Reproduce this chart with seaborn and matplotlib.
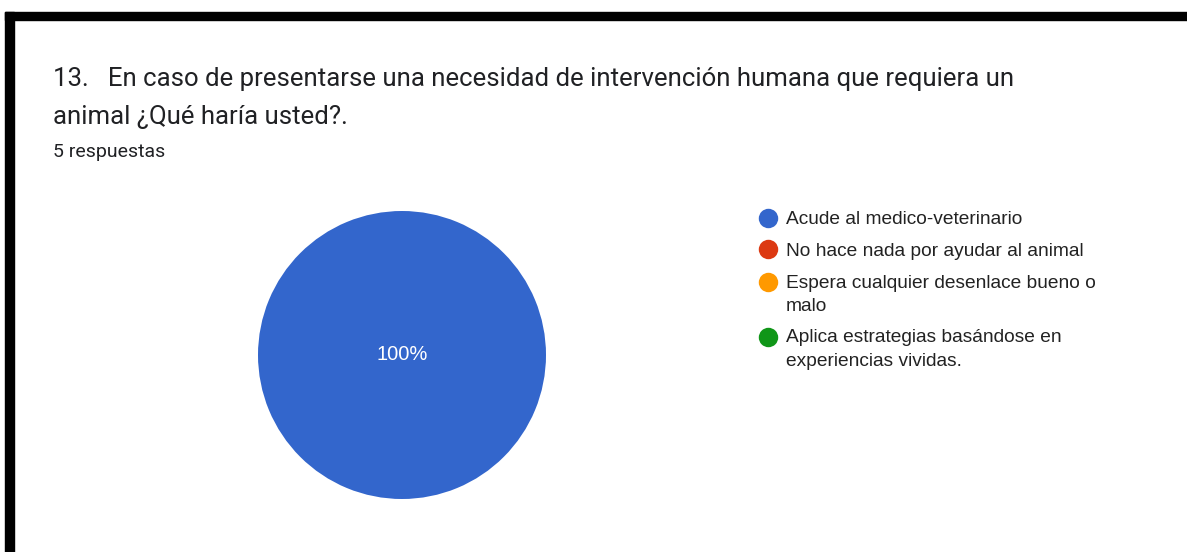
import matplotlib
matplotlib.use("Agg")
import matplotlib.pyplot as plt
from matplotlib.lines import Line2D
from matplotlib.legend_handler import HandlerLine2D
from matplotlib.patches import Rectangle
import seaborn as sns

# Datos de la pregunta 13
titulo = ("13.   En caso de presentarse una necesidad de intervención humana que requiera un\n"
          "animal ¿Qué haría usted?.")
subtitulo = "5 respuestas"
opciones = ["Acude al medico-veterinario",
            "No hace nada por ayudar al animal",
            "Espera cualquier desenlace bueno o\nmalo",
            "Aplica estrategias basándose en\nexperiencias vividas."]
respuestas = [5, 0, 0, 0]
colores = ["#3366cc", "#dc3912", "#ff9900", "#109618"]


class HandlerPrimeraLinea(HandlerLine2D):
    # pone el circulo a la altura de la primera linea del texto
    def __init__(self, dy=0, **kw):
        super().__init__(**kw)
        self.dy = dy

    def create_artists(self, legend, orig_handle, xdescent, ydescent,
                       width, height, fontsize, trans):
        return super().create_artists(legend, orig_handle, xdescent,
                                      ydescent - self.dy, width, height,
                                      fontsize, trans)


sns.set_theme(style="white")
plt.rcParams['font.family'] = ['Roboto', 'DejaVu Sans']

W, H = 1187, 552
fig = plt.figure(figsize=(W / 100, H / 100), dpi=100)
fig.patch.set_facecolor("white")

# Marco negro de la captura
fig.patches.append(Rectangle((5 / W, 1 - 20 / H), 1 - 5 / W, 8 / H,
                             transform=fig.transFigure, color="black", zorder=0))
fig.patches.append(Rectangle((5 / W, 0), 9 / W, 1 - 12 / H,
                             transform=fig.transFigure, color="black", zorder=0))

# Titulo y subtitulo
fig.text(53 / W, 1 - 67 / H, titulo, fontsize=18.5, color="#202124",
         va="top", ha="left", linespacing=1.75)
fig.text(53 / W, 1 - 143 / H, subtitulo, fontsize=14, color="#202124",
         va="top", ha="left")

# Grafico de torta
ax = fig.add_axes([258 / W, 53 / H, 288 / W, 288 / H])
pal = sns.color_palette(colores)
ax.pie(respuestas, colors=pal, startangle=90, counterclock=False,
       autopct=lambda p: f"{p:.0f}%" if p > 0 else "", pctdistance=0,
       wedgeprops=dict(linewidth=0),
       textprops=dict(color="white", fontsize=14.5, family=['Liberation Sans', 'DejaVu Sans']))
ax.set_xlim(-1, 1)
ax.set_ylim(-1, 1)
ax.set_aspect("equal")
ax.axis("off")

# Leyenda
handles = [Line2D([], [], linestyle="none", marker="o", markersize=14,
                  markerfacecolor=c, markeredgewidth=0) for c in pal]
mapa = {h: HandlerPrimeraLinea(dy=18.6) for h, o in zip(handles, opciones) if "\n" in o}
leg = fig.legend(handles, opciones, loc="upper left", handler_map=mapa,
                 bbox_to_anchor=(758 / W, 1 - 211 / H), frameon=False,
                 borderaxespad=0, borderpad=0, handletextpad=0.4, handlelength=1.05,
                 labelspacing=0.75,
                 prop=dict(family=['Liberation Sans', 'DejaVu Sans'], size=13.8),
                 labelcolor="#222222")
for t in leg.get_texts():
    t.set_linespacing(1.5)

fig.savefig("out.png", dpi=100, facecolor="white")
plt.close(fig)
